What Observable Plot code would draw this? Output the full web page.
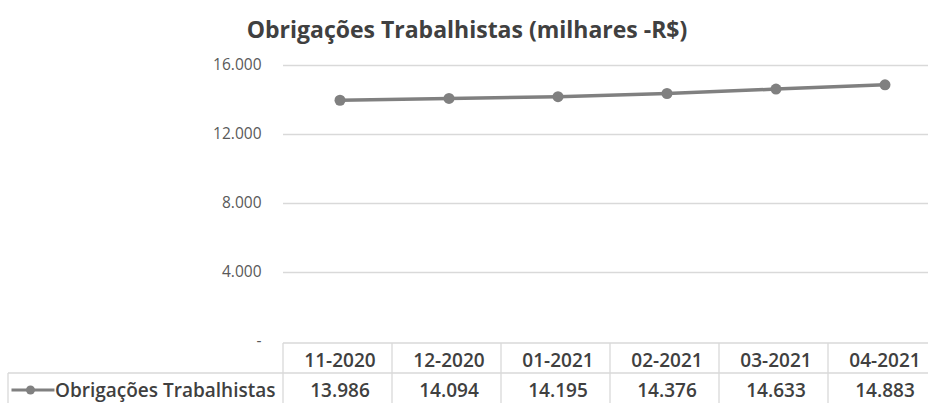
<!DOCTYPE html>
<html>
<head>
<meta charset="utf-8">
<script src="https://cdn.jsdelivr.net/npm/d3@7"></script>
<script src="https://cdn.jsdelivr.net/npm/@observablehq/plot@0.6"></script>
<style>
  html, body { margin: 0; padding: 0; background: #fff; width: 928px; height: 403px; overflow: hidden; }
  #title { width: 928px; height: 50px; text-align: center; font-family: "Open Sans", sans-serif; font-weight: 700; font-size: 23px; color: #404040; line-height: 50px; box-sizing: border-box; padding-left: 6px; padding-top: 4px; }
  #chart svg { display: block; }
</style>
</head>
<body>
<div id="title"></div>
<div id="chart"></div>
<script>
const titleText = "Obrigações Trabalhistas (milhares -R$)";
const seriesName = "Obrigações Trabalhistas";
const categories = ["11-2020", "12-2020", "01-2021", "02-2021", "03-2021", "04-2021"];
const values = [13986, 14094, 14195, 14376, 14633, 14883];
const yTicks = [0, 4000, 8000, 12000, 16000];

document.getElementById("title").textContent = titleText;

const locale = d3.formatLocale({decimal: ",", thousands: ".", grouping: [3], currency: ["R$", ""]});
const num = locale.format(",");
const fmt = d => d === 0 ? "-" : num(d);

const data = categories.map((c, i) => ({cat: c, value: values[i]}));
const FONT = "'Open Sans', sans-serif";
const LINE = "#808080";
const GRID = "#d9d9d9";
const TXT = "#404040";

const chart = Plot.plot({
  width: 928,
  height: 353,
  marginTop: 15,
  marginBottom: 62,
  marginLeft: 283,
  marginRight: 0,
  style: {fontFamily: FONT, fontSize: "15.5px", color: "#595959", background: "#fff"},
  x: {type: "band", domain: categories, range: [283, 940.6], padding: 0, axis: null},
  y: {domain: [0, 16000], axis: null},
  marks: [
    Plot.ruleY(yTicks.filter(d => d > 0), {stroke: GRID, strokeWidth: 1.3}),
    Plot.axisY({ticks: yTicks, tickFormat: fmt, tickSize: 0, tickPadding: 22, label: null, fill: "#595959", fontSize: 15.5}),
    Plot.line(data, {x: "cat", y: "value", stroke: LINE, strokeWidth: 3.5}),
    Plot.dot(data, {x: "cat", y: "value", r: 5.5, fill: LINE}),
    Plot.text(data, {x: "cat", text: "cat", frameAnchor: "bottom", lineAnchor: "middle", dy: 19, fill: TXT, fontSize: 19, fontWeight: 600}),
    Plot.text(data, {x: "cat", text: d => num(d.value), frameAnchor: "bottom", lineAnchor: "middle", dy: 49, fill: TXT, fontSize: 19, fontWeight: 600}),
    Plot.text([seriesName], {text: d => d, frameAnchor: "bottom-left", lineAnchor: "middle", textAnchor: "end", dx: -8, dy: 49, fill: TXT, fontSize: 19, fontWeight: 600})
  ]
});
document.getElementById("chart").appendChild(chart);

// Data-table grid drawn from Plot's own scales
const xs = chart.scale("x");
const ys = chart.scale("y");
const step = xs.bandwidth;
const tableX0 = xs.range[0];
const tableTop = ys.apply(0) + 2;
const tableMid = tableTop + 30;
const tableBottom = 353 + 5;
const svgSel = d3.select(chart);
const grid = svgSel.append("g").attr("stroke", GRID).attr("stroke-width", 1.3);
grid.append("line").attr("x1", tableX0).attr("x2", 928).attr("y1", tableTop).attr("y2", tableTop);
grid.append("line").attr("x1", 8).attr("x2", 928).attr("y1", tableMid).attr("y2", tableMid);
grid.append("line").attr("x1", 8).attr("x2", 8).attr("y1", tableMid).attr("y2", tableBottom);
categories.forEach((c, i) => {
  const bx = tableX0 + i * step;
  grid.append("line").attr("x1", bx).attr("x2", bx).attr("y1", tableTop).attr("y2", tableBottom);
});
// legend key in the table row
const legendText = svgSel.selectAll("text").filter(function() { return this.textContent === seriesName; }).node();
const tl = legendText ? legendText.getComputedTextLength() : 218;
const textStart = tableX0 - 8 - tl;
const ly = tableMid + 17;
svgSel.append("line").attr("x1", textStart - 43).attr("x2", textStart).attr("y1", ly).attr("y2", ly).attr("stroke", LINE).attr("stroke-width", 3);
svgSel.append("circle").attr("cx", textStart - 24).attr("cy", ly).attr("r", 4.5).attr("fill", LINE);
</script>
</body>
</html>
